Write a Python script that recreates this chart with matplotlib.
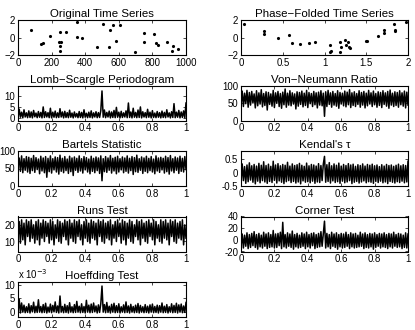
import numpy as np
import matplotlib
matplotlib.use("Agg")
import matplotlib.pyplot as plt
from matplotlib.ticker import FormatStrFormatter

plt.rcParams['font.family'] = ['Liberation Sans', 'DejaVu Sans']
plt.rcParams['font.size'] = 6.9

# original time series (time, magnitude)
orig_t = [79, 134, 148, 193, 242, 256, 248, 252, 252, 283, 350, 350, 380, 469,
          504, 547, 543, 563, 581, 610, 695, 748, 752, 807, 823, 835, 886, 915,
          921, 953]
orig_y = [0.88, -0.7, -0.63, 0.18, -0.5, -0.5, -0.95, -1.58, 0.63, 0.63, 1.8,
          0.1, -0.1, -1.05, 1.6, 0.88, -1.1, 1.4, -0.4, 1.45, -1.6, 0.46, -0.53,
          0.35, -0.63, -0.85, -0.53, -1.58, -1.0, -1.26]

# phase folded series
phase_x = [0.04, 0.27, 0.27, 0.44, 0.58, 0.61, 0.71, 0.82, 0.89, 1.07, 1.06,
           1.08, 1.19, 1.2, 1.19, 1.25, 1.26, 1.28, 1.29, 1.3, 1.5, 1.51, 1.64,
           1.71, 1.71, 1.83, 1.84, 1.85, 1.98]
phase_y = [1.5, 0.71, 0.43, -0.04, 0.25, -0.64, -0.79, -0.61, -0.46, -0.82,
           -1.6, -1.55, -0.46, -1.14, -1.6, -0.29, -0.89, -0.57, -1.1, -1.2,
           -0.4, -0.4, 0.18, 0.54, 0.89, 1.5, 0.71, 0.89, 1.82]

lomb = [0.3, 4.2, 0.5, 2.8, 0.2, 3.9, 0.6, 2.5, 0.3, 3.4,
        0.4, 2.9, 0.2, 3.6, 0.7, 2.4, 0.3, 3.1, 0.5, 2.7,
        0.2, 5.2, 0.4, 3.0, 0.6, 2.6, 0.3, 4.6, 0.2, 2.8,
        0.5, 3.3, 0.3, 2.5, 0.4, 4.4, 0.6, 2.9, 0.2, 3.2,
        0.4, 2.6, 0.3, 3.7, 0.5, 2.4, 0.2, 2.9, 0.6, 2.2,
        0.3, 3.1, 0.4, 2.7, 0.2, 3.9, 0.5, 2.3, 0.3, 2.8,
        0.4, 3.4, 0.2, 2.5, 0.6, 3.0, 0.3, 2.6, 0.4, 3.5,
        12.5, 0.5, 3.8, 0.3, 2.7, 0.6, 3.3, 0.2, 2.9, 0.4,
        3.6, 0.3, 5.0, 0.5, 2.8, 0.2, 3.2, 0.4, 2.5, 0.6,
        3.4, 0.3, 7.0, 0.4, 2.9, 0.2, 4.6, 0.5, 2.7, 0.3,
        3.8, 0.4, 5.2, 0.2, 3.0, 0.6, 2.6, 0.3, 4.1, 0.5,
        2.8, 0.2, 3.5, 0.4, 2.4, 0.3, 3.1, 0.5, 2.6, 0.2,
        3.3, 0.4, 2.7, 0.3, 3.9, 0.6, 2.5, 0.2, 3.0, 0.4,
        6.7, 0.3, 2.8, 0.5, 3.6, 0.2, 2.9, 0.4, 3.4, 0.3,
        7.0]

vonneumann = [45, 84, 40, 78, 48, 86, 38, 80, 44, 83,
              50, 76, 36, 85, 42, 79, 47, 88, 39, 77,
              43, 82, 30, 80, 46, 76, 41, 86, 37, 79,
              49, 83, 40, 77, 35, 81, 45, 90, 38, 78,
              44, 85, 42, 79, 47, 76, 33, 82, 41, 80,
              46, 84, 39, 78, 43, 86, 37, 80, 48, 77,
              40, 83, 45, 79, 36, 81, 44, 85, 42, 78,
              12, 82, 40, 86, 46, 79, 38, 83, 44, 77,
              41, 85, 35, 80, 47, 78, 42, 84, 39, 81,
              45, 88, 37, 79, 43, 82, 40, 77, 46, 85,
              38, 80, 44, 83, 36, 78, 42, 86, 47, 79,
              40, 84, 45, 77, 38, 82, 43, 80, 37, 85,
              46, 79, 41, 83, 35, 87, 44, 78, 40, 82,
              43, 80, 38, 85, 45, 79, 41, 84, 36, 81,
              44]

bartels = [55, 80, 42, 86, 38, 78, 45, 84, 40, 82,
           36, 79, 44, 87, 39, 81, 47, 77, 35, 85,
           43, 80, 38, 84, 25, 79, 41, 86, 37, 78,
           46, 83, 40, 81, 34, 88, 42, 79, 38, 84,
           44, 77, 36, 85, 41, 80, 30, 83, 45, 79,
           39, 86, 43, 78, 37, 84, 46, 81, 40, 77,
           35, 85, 42, 79, 38, 83, 44, 80, 36, 86,
           15, 78, 41, 84, 39, 80, 45, 87, 37, 79,
           43, 82, 35, 85, 40, 78, 46, 83, 38, 80,
           42, 86, 37, 79, 44, 84, 33, 81, 41, 88,
           39, 78, 45, 83, 36, 80, 42, 85, 38, 79,
           44, 84, 40, 77, 35, 86, 43, 80, 39, 82,
           46, 79, 37, 85, 41, 81, 34, 87, 43, 78,
           38, 83, 45, 80, 36, 85, 42, 79, 40, 84,
           47]

kendall = [-0.38, 0.32, -0.30, 0.22, -0.40, 0.28, -0.34, 0.36, -0.28, 0.25,
           -0.36, 0.30, -0.42, 0.24, -0.32, 0.34, -0.38, 0.27, -0.30, 0.40,
           -0.35, 0.26, -0.40, 0.31, -0.33, 0.23, -0.37, 0.42, -0.29, 0.28,
           -0.39, 0.33, -0.31, 0.25, -0.36, 0.30, -0.41, 0.27, -0.34, 0.38,
           -0.30, 0.24, -0.37, 0.32, -0.33, 0.26, -0.39, 0.29, -0.35, 0.34,
           -0.42, 0.27, -0.31, 0.23, -0.36, 0.35, -0.34, 0.25, -0.38, 0.30,
           -0.32, 0.28, -0.40, 0.24, -0.35, 0.33, -0.37, 0.26, -0.30, 0.31,
           0.60, -0.36, 0.29, -0.33, 0.37, -0.39, 0.25, -0.31, 0.32, -0.37,
           0.27, -0.34, 0.35, -0.40, 0.24, -0.32, 0.30, -0.38, 0.26, -0.35,
           0.33, -0.30, 0.28, -0.41, 0.31, -0.36, 0.23, -0.33, 0.29, -0.39,
           0.26, -0.35, 0.32, -0.31, 0.24, -0.38, 0.30, -0.34, 0.27, -0.36,
           0.31, -0.40, 0.25, -0.33, 0.28, -0.37, 0.22, -0.32, 0.29, -0.38,
           0.24, -0.35, 0.30, -0.41, 0.26, -0.33, 0.28, -0.36, 0.23, -0.39,
           0.27, -0.34, 0.31, -0.37, 0.25, -0.32, 0.29, -0.38, 0.26, -0.35,
           0.42]

runs = [12, 22, 9, 23, 11, 21, 8, 23, 13, 22,
        10, 23, 12, 20, 9, 22, 11, 23, 8, 21,
        12, 23, 10, 22, 13, 21, 9, 23, 11, 22,
        8, 20, 12, 23, 10, 22, 9, 21, 13, 23,
        11, 22, 8, 23, 12, 21, 10, 23, 9, 22,
        13, 23, 11, 20, 8, 22, 12, 23, 10, 21,
        9, 23, 12, 22, 11, 21, 8, 23, 13, 22,
        10, 23, 9, 21, 12, 22, 11, 23, 8, 20,
        12, 22, 10, 23, 13, 21, 9, 23, 11, 22,
        8, 21, 12, 23, 10, 22, 9, 20, 13, 23,
        11, 22, 8, 23, 12, 21, 10, 22, 9, 23,
        13, 21, 11, 23, 8, 22, 12, 20, 10, 23,
        9, 22, 12, 23, 11, 21, 8, 23, 13, 22,
        10, 23, 9, 21, 12, 22, 11, 23, 8, 20,
        12]

corner = [-12, 10, -14, 8, -11, 12, -15, 9, -13, 11,
          -10, 14, -13, 9, -16, 11, -12, 8, -14, 13,
          -11, 10, -15, 12, -13, 9, -12, 16, -14, 10,
          -13, 11, -10, 13, -15, 30, -12, 9, -14, 12,
          -11, 10, -13, 15, -16, 9, -12, 11, -14, 8,
          -13, 12, -11, 10, -15, 13, -12, 9, -14, 11,
          -10, 12, -15, 9, -13, 11, -12, 14, -11, 10,
          32, -14, 11, -12, 9, -15, 13, -11, 10, -13,
          12, -16, 9, -12, 11, -14, 10, -13, 13, -11,
          9, -15, 12, -12, 10, -14, 11, -13, 8, -12,
          13, -11, 10, -15, 12, -13, 9, -14, 11, -12,
          10, -16, 12, -13, 9, -11, 11, -14, 10, -12,
          12, -13, 9, -15, 11, -12, 10, -14, 13, -11,
          9, -13, 11, -12, 10, -15, 8, -13, 12, -14,
          10]

# hoeffding values in units of 1e-3
hoeffding = [-0.3, 4.6, -0.5, 3.2, -0.2, 2.4, -0.4, 1.8, -0.3, 2.9,
             -0.5, 2.2, -0.1, 3.5, -0.4, 2.0, -0.3, 4.4, -0.2, 1.9,
             -0.4, 2.6, -0.3, 3.1, -0.5, 1.7, -0.2, 2.8, -0.4, 2.3,
             -0.1, 3.6, -0.3, 2.1, -0.5, 5.8, -0.2, 1.9, -0.4, 2.7,
             -0.3, 2.2, -0.5, 3.3, -0.2, 1.8, -0.4, 2.6, -0.3, 3.8,
             -0.2, 2.0, -0.4, 2.9, -0.3, 1.9, -0.5, 4.2, -0.2, 2.4,
             -0.4, 2.8, -0.3, 3.2, -0.1, 2.1, -0.5, 2.5, -0.3, 3.0,
             9.5, -0.2, 2.6, -0.4, 3.4, -0.3, 2.0, -0.5, 2.7, -0.2,
             3.1, -0.4, 2.2, -0.3, 2.9, -0.5, 1.8, -0.2, 2.5, -0.4,
             3.6, -0.3, 2.1, -0.5, 2.7, -0.2, 1.9, -0.4, 2.4, -0.3,
             3.0, -0.5, 2.3, -0.2, 1.8, -0.4, 2.6, -0.3, 2.0, -0.5,
             2.5, -0.2, 2.8, -0.4, 1.9, -0.3, 2.4, -0.5, 2.2, -0.2,
             3.2, -0.4, 2.0, -0.3, 2.6, -0.5, 1.8, -0.2, 2.9, -0.4,
             2.3, -0.3, 3.1, -0.5, 2.5, -0.2, 2.8, -0.4, 2.1, -0.3,
             3.4]


def make_axes(fig, col, row):
	left = [18, 241][col] / 415.0
	width = [168, 167][col] / 415.0
	top = [20, 85.5, 151, 216.5, 282][row]
	ax = fig.add_axes([left, 1 - (top + 35) / 330.0, width, 35 / 330.0])
	ax.tick_params(direction='in', length=2.5, width=0.5, top=True, right=True, pad=2)
	for s in ax.spines.values():
		s.set_linewidth(0.8)
	return ax


def dense_plot(ax, values, title, ylim, yticks):
	freq = np.linspace(0, 1, len(values))
	ax.plot(freq, values, 'k-', lw=1.1)
	ax.set_xlim(0, 1)
	ax.set_xticks([0, 0.2, 0.4, 0.6, 0.8, 1])
	ax.xaxis.set_major_formatter(FormatStrFormatter('%g'))
	ax.set_ylim(ylim)
	ax.set_yticks(yticks)
	ax.yaxis.set_major_formatter(FormatStrFormatter('%g'))
	ax.set_title(title, pad=2)


def main():
	fig = plt.figure(figsize=(4.15, 3.30), dpi=100)

	ax = make_axes(fig, 0, 0)
	ax.plot(orig_t, orig_y, 'k.', ms=2.5)
	ax.set_xlim(0, 1000)
	ax.set_ylim(-2, 2)
	ax.set_yticks([-2, 0, 2])
	ax.set_title('Original Time Series', pad=2)

	ax = make_axes(fig, 1, 0)
	ax.plot(phase_x, phase_y, 'k.', ms=2.5)
	ax.set_xlim(0, 2)
	ax.set_ylim(-2, 2)
	ax.set_xticks([0, 0.5, 1, 1.5, 2])
	ax.xaxis.set_major_formatter(FormatStrFormatter('%g'))
	ax.set_yticks([-2, 0, 2])
	ax.set_title('Phase\u2212Folded Time Series', pad=2)

	dense_plot(make_axes(fig, 0, 1), lomb, 'Lomb\u2212Scargle Periodogram', (-1, 15), [0, 5, 10])
	dense_plot(make_axes(fig, 1, 1), vonneumann, 'Von\u2212Neumann Ratio', (0, 100), [0, 50, 100])
	dense_plot(make_axes(fig, 0, 2), bartels, 'Bartels Statistic', (0, 100), [0, 50, 100])
	dense_plot(make_axes(fig, 1, 2), kendall, "Kendal's \u03c4", (-0.5, 0.8), [-0.5, 0, 0.5])
	dense_plot(make_axes(fig, 0, 3), runs, 'Runs Test', (4, 25), [10, 20])
	dense_plot(make_axes(fig, 1, 3), corner, 'Corner Test', (-20, 40), [-20, 0, 20, 40])
	ax = make_axes(fig, 0, 4)
	dense_plot(ax, hoeffding, 'Hoeffding Test', (-2, 11), [0, 5, 10])
	ax.text(0, 1.03, 'x 10$^{-3}$', transform=ax.transAxes, ha='left', va='bottom')

	plt.savefig('out.png', dpi=100)


if __name__ == "__main__":
	main()
